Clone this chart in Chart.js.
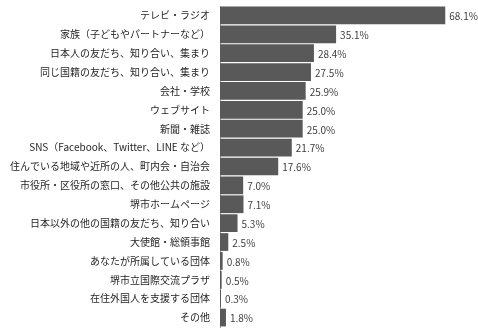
<!DOCTYPE html>
<html>
<head>
<meta charset="utf-8">
<script src="https://cdn.jsdelivr.net/npm/chart.js@4"></script>
<style>
  html, body { margin: 0; padding: 0; background: #fff; overflow: hidden; }
  canvas { display: block; }
</style>
</head>
<body>
<canvas id="myChart" width="478" height="329"></canvas>
<script>
// categories (top to bottom)
const labels = [
    'テレビ・ラジオ',
    '家族（子どもやパートナーなど）',
    '日本人の友だち、知り合い、集まり',
    '同じ国籍の友だち、知り合い、集まり',
    '会社・学校',
    'ウェブサイト',
    '新聞・雑誌',
    'SNS（Facebook、Twitter、LINE など）',
    '住んでいる地域や近所の人、町内会・自治会',
    '市役所・区役所の窓口、その他公共の施設',
    '堺市ホームページ',
    '日本以外の他の国籍の友だち、知り合い',
    '大使館・総領事館',
    'あなたが所属している団体',
    '堺市立国際交流プラザ',
    '在住外国人を支援する団体',
    'その他'
];
const values = [68.1, 35.1, 28.4, 27.5, 25.9, 25.0, 25.0, 21.7, 17.6, 7.0, 7.1, 5.3, 2.5, 0.8, 0.5, 0.3, 1.8];

const font = '"Noto Sans CJK JP", "Noto Sans", sans-serif';

// draws the "xx.x%" text at the end of every bar
const valueLabels = {
    id: 'valueLabels',
    afterDatasetsDraw(chart) {
        const ctx = chart.ctx;
        const meta = chart.getDatasetMeta(0);
        ctx.save();
        ctx.font = '10px ' + font;
        ctx.fillStyle = '#404040';
        ctx.textAlign = 'left';
        ctx.textBaseline = 'middle';
        meta.data.forEach((bar, i) => {
            ctx.fillText(values[i].toFixed(1) + '%', bar.x + 4, bar.y + 1);
        });
        ctx.restore();
    }
};

const ctx = document.getElementById('myChart');
const chart = new Chart(ctx, {
    type: 'bar',
    data: {
        labels: labels,
        datasets: [{
            data: values,
            backgroundColor: '#595959',
            borderWidth: 0,
            categoryPercentage: 1,
            barPercentage: 0.94
        }]
    },
    options: {
        indexAxis: 'y',
        responsive: false,
        animation: false,
        layout: { padding: { top: 6, bottom: 2, right: 0, left: 0 } },
        plugins: {
            legend: { display: false },
            tooltip: { enabled: false }
        },
        scales: {
            x: {
                display: false,
                min: 0,
                max: 78
            },
            y: {
                afterFit(scale) {
                    scale.width = 220;
                    scale.paddingTop = 0;
                    scale.paddingBottom = 0;
                },
                grid: { display: false, drawTicks: false },
                border: { display: true, color: '#a6a6a6', width: 1 },
                ticks: {
                    padding: 10,
                    autoSkip: false,
                    color: '#262626',
                    font: { family: font, size: 10 }
                }
            }
        }
    },
    plugins: [valueLabels]
});
</script>
</body>
</html>
